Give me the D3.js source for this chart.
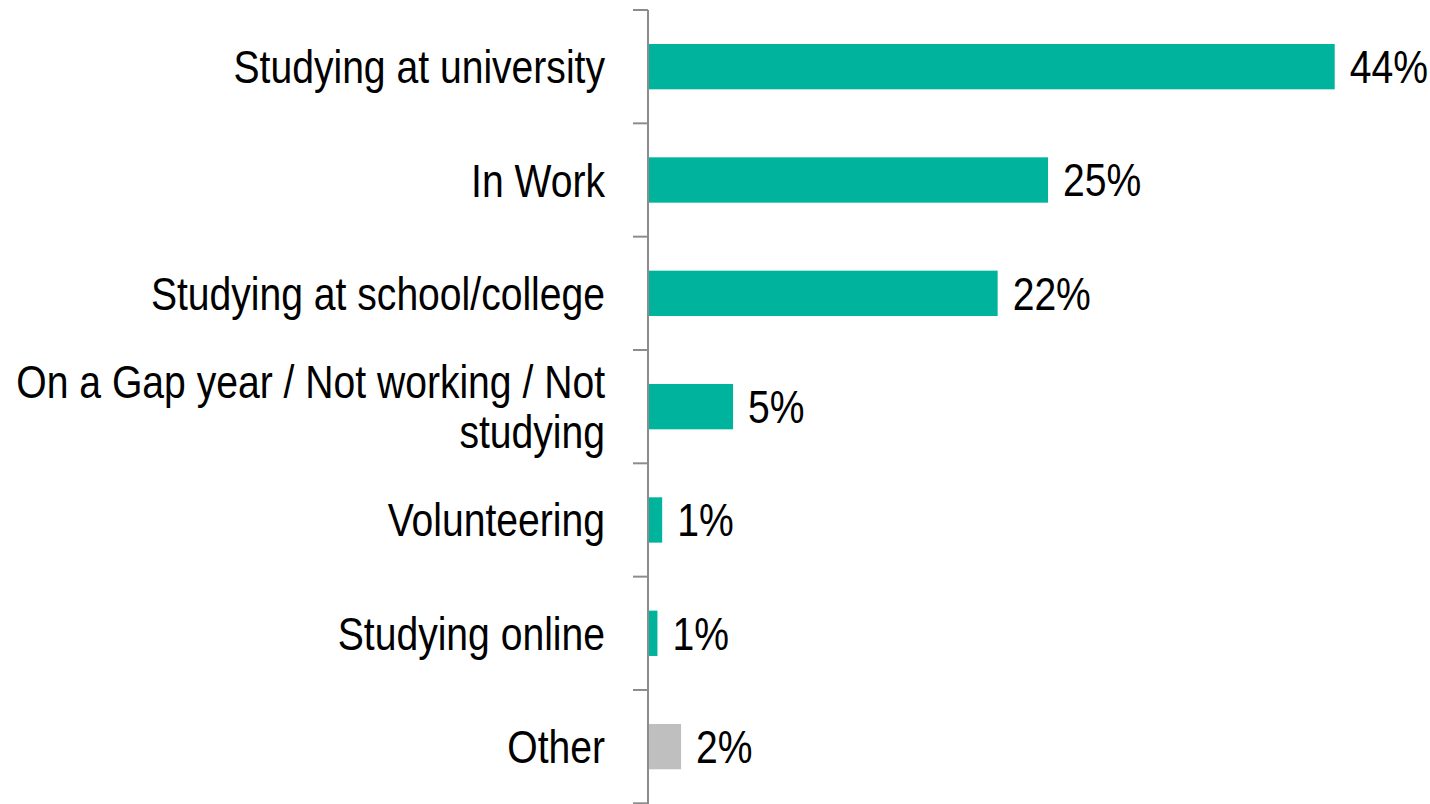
<!DOCTYPE html>
<html>
<head>
<meta charset="utf-8">
<script src="https://cdn.jsdelivr.net/npm/d3@7"></script>
<style>
  html, body { margin: 0; padding: 0; background: #ffffff; }
  svg { display: block; }
  text { font-family: "Liberation Sans", Arial, sans-serif; fill: #000; }
</style>
</head>
<body>
<svg id="chart" width="1430" height="804"></svg>
<script>
// Current activity of respondents (share, %)
const categories = [
  "Studying at university",
  "In Work",
  "Studying at school/college",
  "On a Gap year / Not working / Not studying",
  "Volunteering",
  "Studying online",
  "Other"
];
const values = [43.6, 25.4, 22.2, 5.4, 0.9, 0.6, 2.1];
const barColors = ["#00b39d", "#00b39d", "#00b39d", "#00b39d", "#00b39d", "#00b39d", "#bfbfbf"];
// wrapped lines for long category names
const labelLines = {
  "On a Gap year / Not working / Not studying": ["On a Gap year / Not working / Not", "studying"]
};

const svg = d3.select("#chart");
const axisX = 648;
const fontSize = 46;
const narrow = 0.85;   // condensed letterforms

const x = d3.scaleLinear().domain([0, 50]).range([axisX, axisX + 787.5]);
const y = d3.scaleBand().domain(categories).range([10, 803.3]).paddingInner(0.6).paddingOuter(0.3);

const data = categories.map((c, i) => ({ cat: c, value: values[i], color: barColors[i] }));

// bars
svg.append("g").selectAll("rect")
  .data(data)
  .enter().append("rect")
  .attr("x", x(0))
  .attr("y", d => y(d.cat))
  .attr("width", d => x(d.value) - x(0))
  .attr("height", y.bandwidth())
  .attr("fill", d => d.color);

// value labels
svg.append("g").selectAll("text")
  .data(data)
  .enter().append("text")
  .attr("transform", d => `translate(${x(d.value) + 15},${y(d.cat) + y.bandwidth() / 2 + 16.5}) scale(${narrow},1)`)
  .attr("font-size", fontSize)
  .text(d => Math.round(d.value) + "%");

// category axis: line with outward ticks at band boundaries
const step = y.step();
const bounds = d3.range(categories.length + 1).map(i => 10 + i * step);
const axisG = svg.append("g");
axisG.append("line")
  .attr("x1", axisX).attr("x2", axisX)
  .attr("y1", 10).attr("y2", 804)
  .attr("stroke", "#8c8c8c").attr("stroke-width", 2);
axisG.selectAll("line.tick")
  .data(bounds)
  .enter().append("line")
  .attr("class", "tick")
  .attr("x1", axisX - 15).attr("x2", axisX)
  .attr("y1", d => d).attr("y2", d => d)
  .attr("stroke", "#8c8c8c").attr("stroke-width", 2);

// category labels
const lineGap = 50;
axisG.selectAll("text")
  .data(categories)
  .enter().append("text")
  .attr("text-anchor", "end")
  .attr("font-size", fontSize)
  .attr("transform", c => `translate(605,${y(c) + y.bandwidth() / 2}) scale(${narrow},1)`)
  .each(function(c) {
    const lines = labelLines[c] || [c];
    const first = -(lines.length - 1) * lineGap / 2 + 16.5;
    d3.select(this).selectAll("tspan")
      .data(lines)
      .enter().append("tspan")
      .attr("x", 0)
      .attr("y", (d, i) => first + i * lineGap)
      .text(d => d);
  });
</script>
</body>
</html>
